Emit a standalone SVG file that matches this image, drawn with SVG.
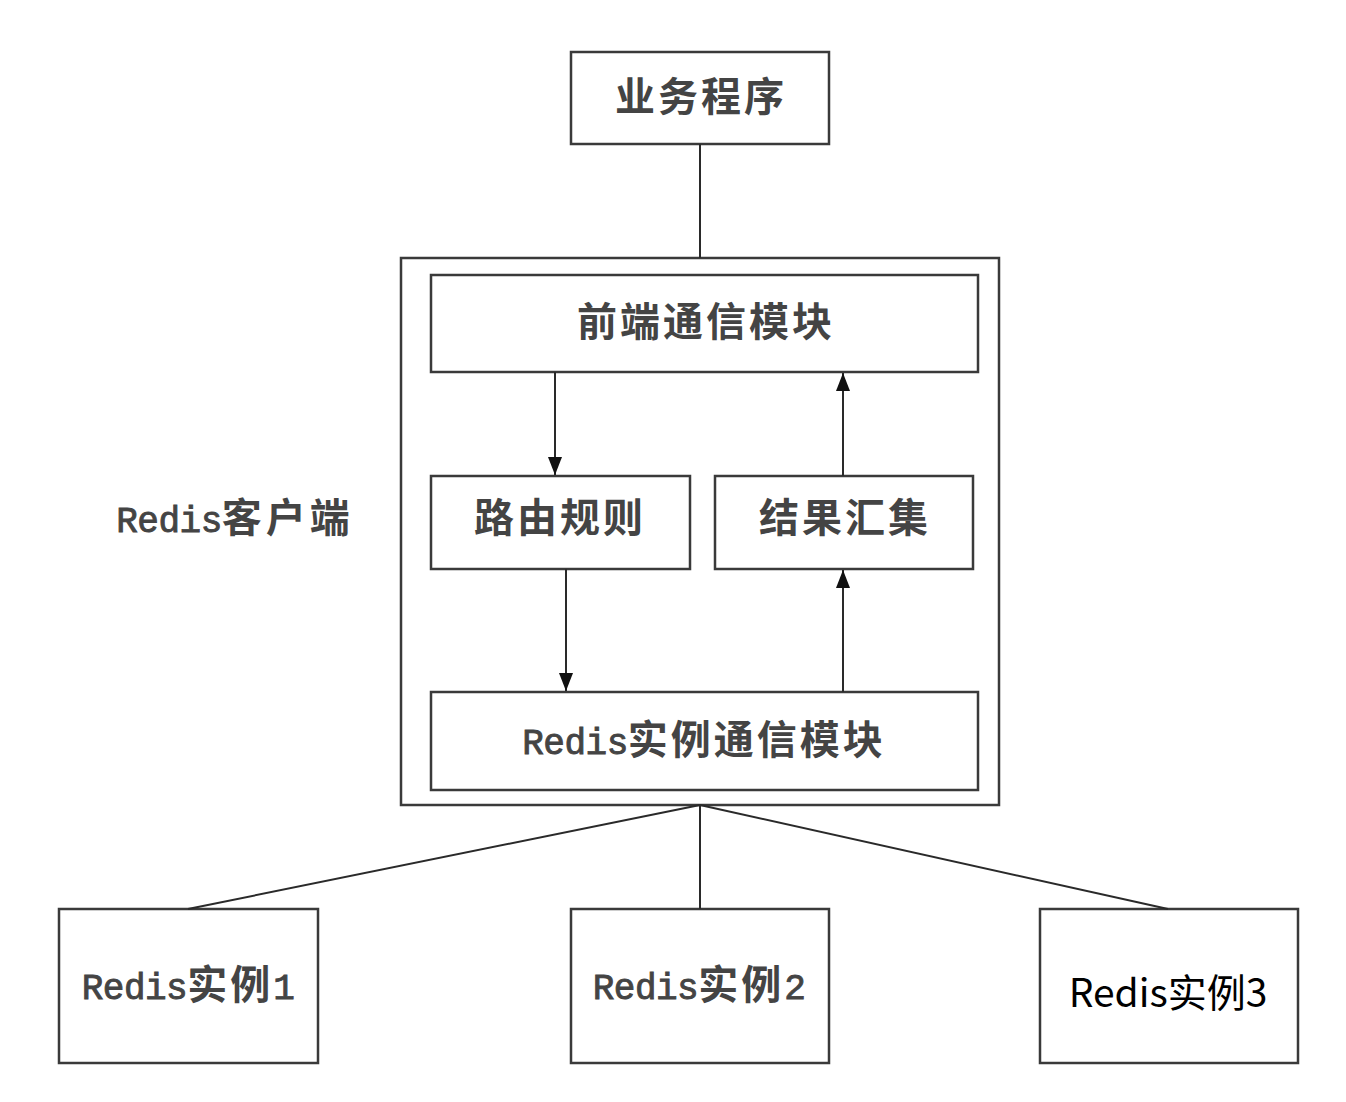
<svg xmlns="http://www.w3.org/2000/svg" width="1346" height="1102" viewBox="0 0 1346 1102">
<defs>
<style>
.box{fill:#fff;stroke:#3a3a3a;stroke-width:2.5}
.frame{fill:none;stroke:#3a3a3a;stroke-width:2.5}
.ln{fill:none;stroke:#2a2a2a;stroke-width:2}
.cn{font-family:"Noto Sans CJK SC",sans-serif;font-size:40px;font-weight:bold;fill:#444;text-anchor:middle;letter-spacing:3px}
.lat{font-family:"Liberation Mono",monospace;font-size:36px;font-weight:normal;letter-spacing:-0.5px;stroke:#444;stroke-width:0.9px}
.sn{font-family:"Noto Sans CJK SC",sans-serif;font-size:39px;fill:#000;text-anchor:middle}
</style>
<marker id="ah" viewBox="0 0 18 14" refX="18" refY="7" markerWidth="18" markerHeight="14" markerUnits="userSpaceOnUse" orient="auto">
<path d="M0,0 L18,7 L0,14 Z" fill="#111"/>
</marker>
</defs>
<rect width="1346" height="1102" fill="#fff"/>
<g id="business">
<rect class="box" x="571" y="52" width="258" height="92"/>
<text class="cn" x="701" y="111">业务程序</text>
</g>
<g id="client">
<rect class="frame" x="401" y="258" width="598" height="547"/>
<text class="cn" x="235" y="532" style="letter-spacing:4px"><tspan class="lat">Redis</tspan>客户端</text>
</g>
<g id="frontend">
<rect class="box" x="431" y="275" width="547" height="97"/>
<text class="cn" x="706" y="336">前端通信模块</text>
</g>
<g id="routing">
<rect class="box" x="431" y="476" width="259" height="93"/>
<text class="cn" x="560" y="532">路由规则</text>
</g>
<g id="aggregate">
<rect class="box" x="715" y="476" width="258" height="93"/>
<text class="cn" x="845" y="532">结果汇集</text>
</g>
<g id="instcomm">
<rect class="box" x="431" y="692" width="547" height="98"/>
<text class="cn" x="704" y="754"><tspan class="lat">Redis</tspan>实例通信模块</text>
</g>
<g id="inst1">
<rect class="box" x="59" y="909" width="259" height="154"/>
<text class="cn" x="188" y="999"><tspan class="lat">Redis</tspan>实例<tspan class="lat">1</tspan></text>
</g>
<g id="inst2">
<rect class="box" x="571" y="909" width="258" height="154"/>
<text class="cn" x="699" y="999"><tspan class="lat">Redis</tspan>实例<tspan class="lat">2</tspan></text>
</g>
<g id="inst3">
<rect class="box" x="1040" y="909" width="258" height="154"/>
<text class="sn" x="1168" y="1007">Redis实例3</text>
</g>
<g id="connectors">
<line class="ln" x1="700" y1="144" x2="700" y2="258"/>
<line class="ln" x1="555" y1="372" x2="555" y2="475" marker-end="url(#ah)"/>
<line class="ln" x1="843" y1="476" x2="843" y2="373" marker-end="url(#ah)"/>
<line class="ln" x1="566" y1="569" x2="566" y2="691" marker-end="url(#ah)"/>
<line class="ln" x1="843" y1="692" x2="843" y2="570" marker-end="url(#ah)"/>
<line class="ln" x1="700" y1="805" x2="188" y2="909"/>
<line class="ln" x1="700" y1="805" x2="700" y2="909"/>
<line class="ln" x1="700" y1="805" x2="1168" y2="909"/>
</g>
</svg>
